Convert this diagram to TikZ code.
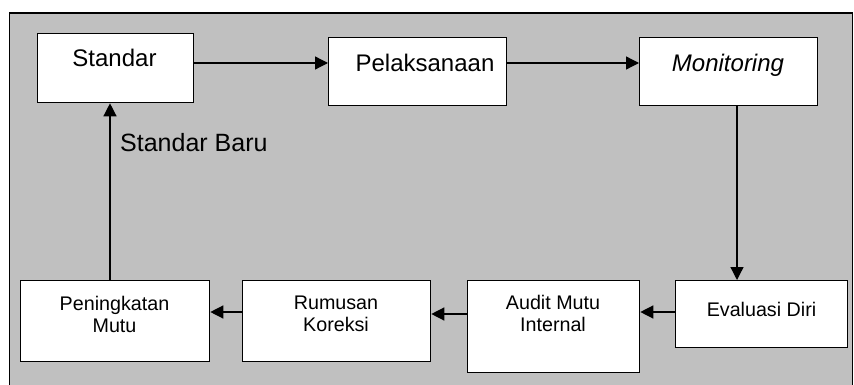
\documentclass[tikz,border=0pt]{standalone}
\usepackage{fontspec}
\setmainfont{Liberation Sans}
\usetikzlibrary{arrows.meta}
\definecolor{panel}{RGB}{192,192,192}
\begin{document}
\begin{tikzpicture}[x=1pt,y=-1pt,
  stage/.style={draw=black, fill=white, line width=1.3pt, inner sep=0pt, anchor=north west},
  bigtxt/.style={font=\fontsize{24}{28}\selectfont, inner sep=0pt, anchor=base},
  smalltxt/.style={font=\fontsize{19.7}{21.8}\selectfont, inner sep=0pt, anchor=north, align=center},
  flow/.style={line width=1.3pt, -{Triangle[length=13pt,width=13pt]}}]
\useasboundingbox (0,0) rectangle (854,385);
% grey panel with its frame
\begin{scope}
  \clip (0,0) rectangle (854,385);
  \draw[fill=panel, line width=1.3pt] (9.5,13) rectangle (852.5,400);
\end{scope}

% top row
\node[stage, minimum width=156pt, minimum height=69pt] (std) at (37,33) {};
\node[stage, minimum width=178pt, minimum height=68pt] (pel) at (328,37) {};
\node[stage, minimum width=178pt, minimum height=68pt] (mon) at (639,37) {};
% bottom row
\node[stage, minimum width=172pt, minimum height=67pt] (eva) at (675,280) {};
\node[stage, minimum width=172pt, minimum height=92pt] (aud) at (467,280) {};
\node[stage, minimum width=188pt, minimum height=81pt] (rum) at (242,280) {};
\node[stage, minimum width=189pt, minimum height=81pt] (pen) at (20,280) {};

% box texts
\node[bigtxt] (stdtxt) at (114.5,67) {Standar};
\node[bigtxt] (peltxt) at (425,71.7) {Pelaksanaan};
\node[bigtxt] (montxt) at (728,71.7) {\itshape Monitoring};
\node[smalltxt] (evatxt) at (761.5,302.5) {Evaluasi Diri};
\node[smalltxt] (audtxt) at (553,295) {Audit Mutu\\Internal};
\node[smalltxt] (rumtxt) at (336,295.5) {Rumusan\\Koreksi};
\node[smalltxt] (pentxt) at (114.5,296) {Peningkatan\\Mutu};
\node[bigtxt, anchor=base west, font=\fontsize{25}{29}\selectfont] (baru) at (120,151) {Standar Baru};

% connector guides
\coordinate (rowtop) at (0,63);
\coordinate (rowA) at (0,312);
\coordinate (rowB) at (0,314);
\coordinate (colR) at (737,0);
\coordinate (colL) at (110,0);

\draw[flow] (std.east |- rowtop) -- (pel.west |- rowtop);
\draw[flow] (pel.east |- rowtop) -- (mon.west |- rowtop);
\draw[flow] (mon.south -| colR) -- (eva.north -| colR);
\draw[flow] (eva.west |- rowA) -- (aud.east |- rowA);
\draw[flow] (aud.west |- rowB) -- (rum.east |- rowB);
\draw[flow] (rum.west |- rowA) -- (pen.east |- rowA);
\draw[flow] (pen.north -| colL) -- (std.south -| colL);
\end{tikzpicture}
\end{document}
